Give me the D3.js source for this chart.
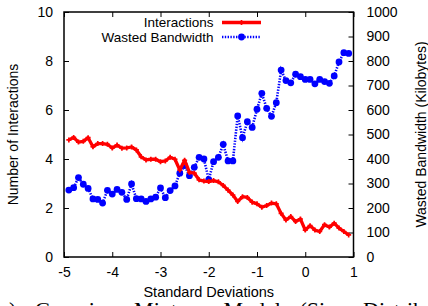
<!DOCTYPE html>
<html>
<head>
<meta charset="utf-8">
<script src="https://cdn.jsdelivr.net/npm/d3@7"></script>
<style>
  html, body { margin: 0; padding: 0; background: #fff; }
  svg { display: block; }
  text { font-family: "Liberation Sans", Arial, Helvetica, sans-serif; fill: #000; }
</style>
</head>
<body>
<svg id="chart" width="428" height="306"></svg>
<script>
// ---- data ----
const stdDevs = [-4.9,-4.8,-4.7,-4.6,-4.5,-4.4,-4.3,-4.2,-4.1,-4.0,
  -3.9,-3.8,-3.7,-3.6,-3.5,-3.4,-3.3,-3.2,-3.1,-3.0,
  -2.9,-2.8,-2.7,-2.6,-2.5,-2.4,-2.3,-2.2,-2.1,-2.0,
  -1.9,-1.8,-1.7,-1.6,-1.5,-1.4,-1.3,-1.2,-1.1,-1.0,
  -0.9,-0.8,-0.7,-0.6,-0.5,-0.4,-0.3,-0.2,-0.1,0.0,
  0.1,0.2,0.3,0.4,0.5,0.6,0.7,0.8,0.9];
const interactions = [4.78,4.88,4.69,4.72,4.87,4.50,4.63,4.63,4.60,4.45,
  4.57,4.44,4.45,4.49,4.37,4.09,3.96,3.99,3.99,3.89,
  3.92,4.07,3.99,3.55,3.95,3.45,3.42,3.15,3.10,3.08,
  3.12,3.07,2.92,2.73,2.53,2.27,2.46,2.43,2.24,2.17,
  2.03,2.10,2.20,2.17,1.78,1.51,1.65,1.45,1.55,1.10,
  1.28,1.10,1.04,1.32,1.22,1.38,1.18,1.04,0.90];
const wastedBandwidth = [273,283,324,297,280,237,235,220,272,257,
  276,264,235,298,238,237,227,237,244,282,
  242,271,290,342,373,332,366,407,400,316,
  389,407,460,392,392,576,487,552,529,603,
  668,607,574,630,763,720,711,746,736,725,
  725,707,725,716,709,739,796,834,831];
const xTicks = [-5,-4,-3,-2,-1,0,1];
const yTicks = [0,2,4,6,8,10];
const y2Ticks = [0,100,200,300,400,500,600,700,800,900,1000];
const seriesNames = ["Interactions","Wasted Bandwidth"];
const xTitle = "Standard Deviations";
const yTitle = "Number of Interactions";
const y2Title = "Wasted Bandwidth (Kilobytes)";
const caption = "(a) Gaussian Mixture Model (Size Distribution)";

// ---- layout ----
const W = 428, H = 306;
const m = {left: 64, right: 74.5, top: 12, bottom: 49};
const svg = d3.select("#chart");
const x = d3.scaleLinear().domain([-5, 1]).range([m.left, W - m.right]);
const y = d3.scaleLinear().domain([0, 10]).range([H - m.bottom, m.top]);
const y2 = d3.scaleLinear().domain([0, 1000]).range([H - m.bottom, m.top]);
const fs = 14;

function styleAxis(g) {
  g.select(".domain").remove();
  g.selectAll(".tick line").attr("stroke", "#000").attr("stroke-width", 1);
  g.selectAll("text").style("font-size", fs + "px")
    .style("font-family", '"Liberation Sans", Arial, sans-serif');
}
const fmt = d => String(d);

svg.append("g").attr("transform", `translate(${m.left},0)`)
  .call(d3.axisLeft(y).tickValues(yTicks).tickSize(-5).tickPadding(11).tickFormat(fmt))
  .call(styleAxis);
svg.append("g").attr("transform", `translate(${W - m.right},0)`)
  .call(d3.axisRight(y2).tickValues(y2Ticks).tickSize(-5).tickPadding(13).tickFormat(fmt))
  .call(styleAxis);
svg.append("g").attr("transform", `translate(0,${H - m.bottom})`)
  .call(d3.axisBottom(x).tickValues(xTicks).tickSize(-5).tickPadding(10).tickFormat(fmt))
  .call(styleAxis);
svg.append("g").attr("transform", `translate(0,${m.top})`)
  .call(d3.axisTop(x).tickValues(xTicks).tickSize(-5).tickFormat(() => ""))
  .call(styleAxis);

// frame
svg.append("rect")
  .attr("x", m.left).attr("y", m.top)
  .attr("width", W - m.left - m.right).attr("height", H - m.top - m.bottom)
  .attr("fill", "none").attr("stroke", "#000").attr("stroke-width", 1.5);

// titles
svg.append("text").attr("transform", `translate(13,${(m.top + H - m.bottom)/2}) rotate(-90)`)
  .attr("text-anchor", "middle").attr("dy", "0.35em").style("font-size", fs + "px").text(yTitle);
svg.append("text").attr("transform", `translate(421.5,${(m.top + H - m.bottom)/2}) rotate(-90)`)
  .attr("text-anchor", "middle").attr("dy", "0.35em").style("font-size", fs + "px").text(y2Title);
svg.append("text").attr("x", (m.left + W - m.right)/2).attr("y", 296.5)
  .attr("text-anchor", "middle").style("font-size", "14.5px").text(xTitle);

// caption (cut off by the window, as in the reference)
svg.append("text").attr("x", -8).attr("y", 317)
  .style("font-family", '"Liberation Serif", "Times New Roman", serif')
  .style("font-size", "22px").style("word-spacing", "13px").text(caption);

// ---- series ----
const redData = stdDevs.map((d, i) => [d, interactions[i]]);
const blueData = stdDevs.map((d, i) => [d, wastedBandwidth[i]]);

svg.append("path").datum(blueData)
  .attr("fill", "none").attr("stroke", "#0000ff").attr("stroke-width", 2.6)
  .attr("stroke-dasharray", "1.4,1.4")
  .attr("d", d3.line().x(d => x(d[0])).y(d => y2(d[1])));
svg.append("g").selectAll("circle").data(blueData).join("circle")
  .attr("cx", d => x(d[0])).attr("cy", d => y2(d[1])).attr("r", 3.4).attr("fill", "#0000ff");

svg.append("path").datum(redData)
  .attr("fill", "none").attr("stroke", "#ff0000").attr("stroke-width", 3.3)
  .attr("stroke-linejoin", "round")
  .attr("d", d3.line().x(d => x(d[0])).y(d => y(d[1])));
const plus = d3.symbol().type(d3.symbolCross).size(14);
svg.append("g").selectAll("path").data(redData).join("path")
  .attr("transform", d => `translate(${x(d[0])},${y(d[1])})`)
  .attr("d", plus).attr("fill", "#ff0000");

// ---- legend ----
const lg = svg.append("g");
const lx0 = 222, lx1 = 261, textRight = 213.5;
const rows = [
  {name: seriesNames[0], yy: 22.5, color: "#ff0000"},
  {name: seriesNames[1], yy: 37, color: "#0000ff"}
];
rows.forEach((r, i) => {
  lg.append("text").attr("x", textRight).attr("y", r.yy).attr("dy", "0.35em")
    .attr("text-anchor", "end").style("font-size", "13.5px").text(r.name);
  const ln = lg.append("line").attr("x1", lx0).attr("x2", lx1).attr("y1", r.yy).attr("y2", r.yy)
    .attr("stroke", r.color);
  if (i === 0) {
    ln.attr("stroke-width", 3.3);
    lg.append("path").attr("transform", `translate(${(lx0+lx1)/2},${r.yy})`)
      .attr("d", plus).attr("fill", r.color);
  } else {
    ln.attr("stroke-width", 2.6).attr("stroke-dasharray", "1.4,1.4");
    lg.append("circle").attr("cx", (lx0+lx1)/2).attr("cy", r.yy).attr("r", 3.4).attr("fill", r.color);
  }
});
</script>
</body>
</html>
